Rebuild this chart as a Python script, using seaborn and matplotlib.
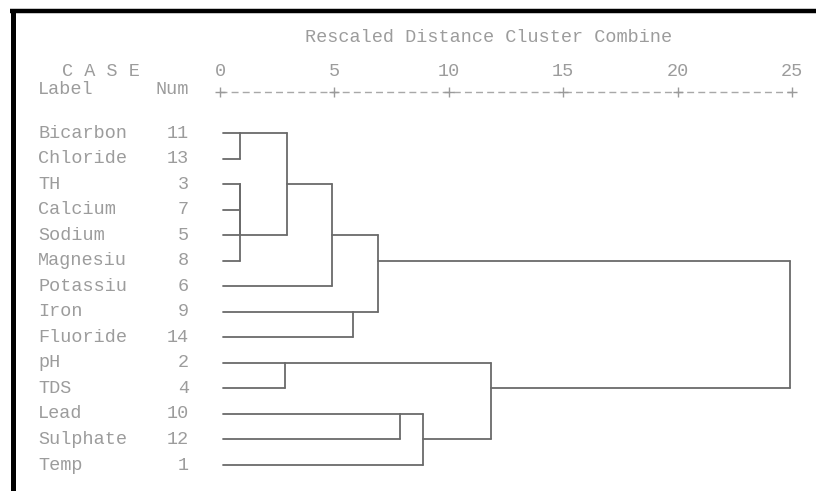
import numpy as np
import pandas as pd
import matplotlib
matplotlib.use("Agg")
import matplotlib.pyplot as plt
import seaborn as sns
from matplotlib.lines import Line2D

# ---- data -------------------------------------------------------------
labels = ["Bicarbon", "Chloride", "TH", "Calcium", "Sodium", "Magnesiu",
          "Potassiu", "Iron", "Fluoride", "pH", "TDS", "Lead", "Sulphate", "Temp"]
case_nums = [11, 13, 3, 7, 5, 8, 6, 9, 14, 2, 4, 10, 12, 1]

# agglomeration schedule (children index leaves 0..13 in display order,
# new clusters get ids 14, 15, ...), heights in rescaled distance
merge_left = [0, 2, 15, 16, 14, 18, 7, 19, 9, 11, 23, 22, 21]
merge_right = [1, 3, 4, 5, 17, 6, 8, 20, 10, 12, 13, 24, 25]
merge_height = [0.87, 0.87, 0.87, 0.87, 2.93, 4.89, 5.81, 6.90,
                2.84, 7.86, 8.86, 11.83, 24.9]

tick_values = [0, 5, 10, 15, 20, 25]
title = "Rescaled Distance Cluster Combine"

# ---- build segments ---------------------------------------------------
LEAF_START = 0.12
n = len(labels)
node_row = {i: i for i in range(n)}
node_h = {i: LEAF_START for i in range(n)}
rows = []
seg = 0
for k, (a, b, h) in enumerate(zip(merge_left, merge_right, merge_height)):
    ra, rb = node_row[a], node_row[b]
    for c, rc in ((a, ra), (b, rb)):
        rows += [(seg, node_h[c], rc), (seg, h, rc)]
        seg += 1
    rows += [(seg, h, ra), (seg, h, rb)]
    seg += 1
    new = n + k
    node_row[new] = (ra + rb) // 2
    node_h[new] = h
segs = pd.DataFrame(rows, columns=["seg", "x", "y"])

# ---- figure -----------------------------------------------------------
sns.set_theme(style="white")
plt.rcParams["font.family"] = ["Liberation Mono", "DejaVu Sans Mono"]

W, H = 816, 491
fig = plt.figure(figsize=(W / 100, H / 100), dpi=100)
ax = fig.add_axes([0, 0, 1, 1])

px_per_unit = (792 - 220) / 25.0
px_per_row = (465 - 133) / 13.0
ax.set_xlim(-220 / px_per_unit, (W - 220) / px_per_unit)
ax.set_ylim((H - 133) / px_per_row, -133 / px_per_row)
ax.axis("off")

line_col = "#6a6a6a"
text_col = "#9c9c9c"
fs = 13.3

sns.lineplot(data=segs, x="x", y="y", units="seg", estimator=None, sort=False,
             color=line_col, lw=1.3, ax=ax, legend=False)

# scale line with ticks
y_axis = (92 - 133) / px_per_row
ax.plot([tick_values[0], tick_values[-1]], [y_axis, y_axis], color="#a8a8a8",
        lw=1.0, dashes=(5, 3))
ax.plot(tick_values, [y_axis] * len(tick_values), ls="none", marker="+",
        ms=7, mew=1.0, color="#9a9a9a")
y_tick = (72 - 133) / px_per_row
for t in tick_values:
    ax.text(t, y_tick, str(t), ha="center", va="center", fontsize=fs, color=text_col)

ax.text(3.72, (38 - 133) / px_per_row, title, ha="left", va="center",
        fontsize=fs, color=text_col)

x_lab = (38 - 220) / px_per_unit
x_num = (189 - 220) / px_per_unit
ax.text((62 - 220) / px_per_unit, y_tick, "C A S E", ha="left", va="center",
        fontsize=fs, color=text_col)
ax.text(x_lab, (90 - 133) / px_per_row, "Label", ha="left", va="center",
        fontsize=fs, color=text_col)
ax.text(x_num, (90 - 133) / px_per_row, "Num", ha="right", va="center",
        fontsize=fs, color=text_col)

for i, (lab, num) in enumerate(zip(labels, case_nums)):
    ax.text(x_lab, i, lab, ha="left", va="center", fontsize=fs, color=text_col)
    ax.text(x_num, i, str(num), ha="right", va="center", fontsize=fs, color=text_col)

# thick black frame (top and left)
fig.add_artist(Line2D([10 / W, 1], [1 - 11 / H, 1 - 11 / H], color="black",
                      lw=3.2, solid_capstyle="butt", transform=fig.transFigure))
fig.add_artist(Line2D([12.5 / W, 12.5 / W], [1 - 9 / H, 0], color="black",
                      lw=3.6, solid_capstyle="butt", transform=fig.transFigure))

fig.savefig("out.png", dpi=100)
